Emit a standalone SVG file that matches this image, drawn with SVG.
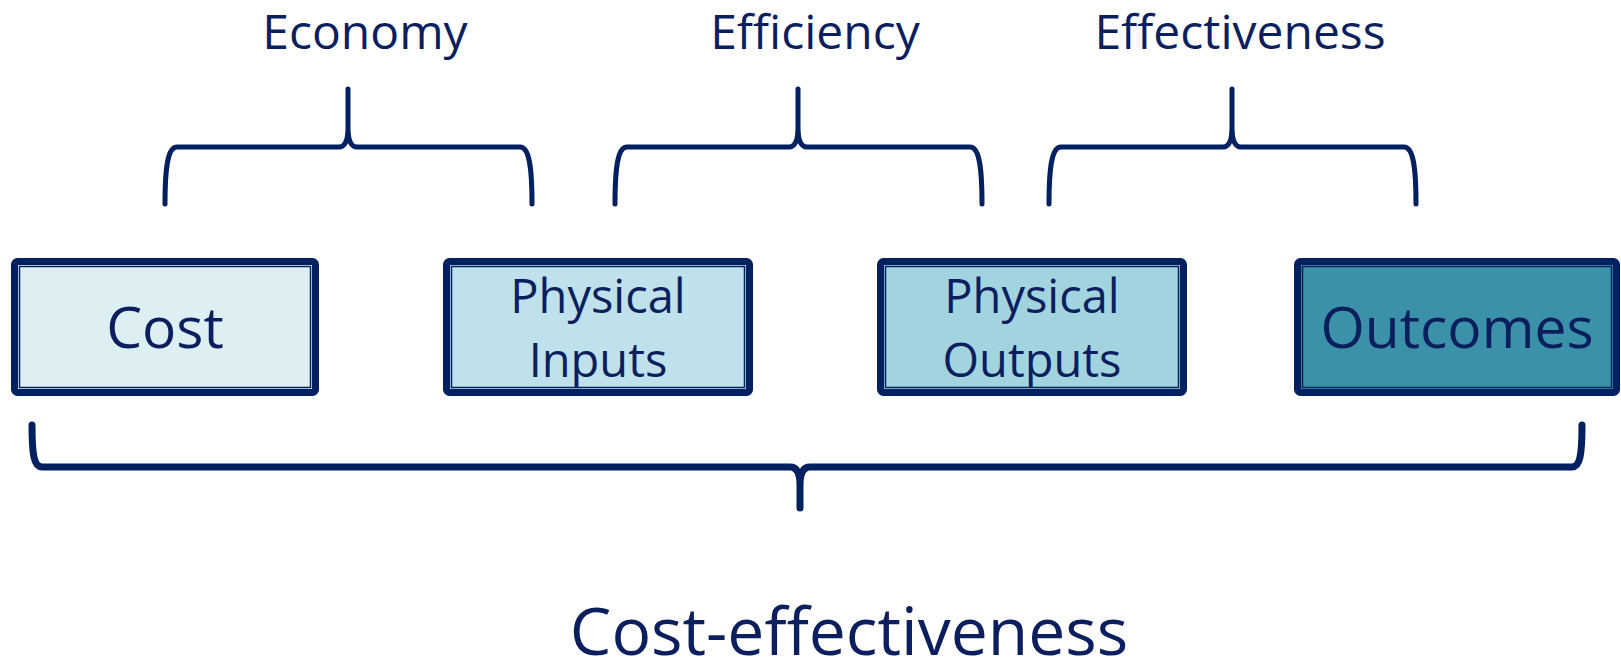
<svg xmlns="http://www.w3.org/2000/svg" width="1621" height="662" viewBox="0 0 1621 662">
<style>
.outer{stroke:#002060;stroke-width:7;}
.inner{fill:none;stroke:#002060;stroke-width:1.5;}
.brace{fill:none;stroke:#002060;stroke-width:5;stroke-linecap:round;stroke-linejoin:round;}
.bbrace{fill:none;stroke:#002060;stroke-width:7;stroke-linecap:round;stroke-linejoin:round;}
text{font-family:"Open Sans","Noto Sans",sans-serif;fill:#0B1F5E;text-anchor:middle;}
.lab{font-size:48px;}
.big{font-size:57px;}
.mid{font-size:47px;}
.bottom{font-size:66px;}
</style>
<defs>
<path id="br" d="M0,57 C0,19 3,0 12,0 L174,0 C180,0 183,-7 183,-20 L183,-58 M183,-20 C183,-7 186,0 192,0 L355,0 C364,0 367,19 367,57"/>
</defs>
<rect width="1621" height="662" fill="#FFFFFF"/>
<g id="labels">
<text class="lab" x="365" y="49">Economy</text>
<text class="lab" x="815" y="49">Efficiency</text>
<text class="lab" x="1240" y="49">Effectiveness</text>
<text class="bottom" x="849" y="655">Cost-effectiveness</text>
</g>
<g id="connectors">
<use href="#br" class="brace" transform="translate(165,147)"/>
<use href="#br" class="brace" transform="translate(615,147)"/>
<use href="#br" class="brace" transform="translate(1049,147)"/>
<path class="bbrace" d="M32,425 C32,455 34,467 42,467 L790,467 C796,467 800,472 800,485 L800,508 M800,485 C800,472 804,467 810,467 L1572,467 C1580,467 1582,455 1582,425"/>
</g>
<g id="cost">
<rect class="outer" x="14.5" y="261.5" width="301" height="131" rx="3" fill="#DEEFF4"/>
<rect class="inner" x="19.5" y="266.5" width="291" height="121"/>
<text class="big" x="165" y="348">Cost</text>
</g>
<g id="inputs">
<rect class="outer" x="446.5" y="261.5" width="303" height="131" rx="3" fill="#BFE1EB"/>
<rect class="inner" x="451.5" y="266.5" width="293" height="121"/>
<text class="mid" x="598" y="313">Physical</text>
<text class="mid" x="598" y="377">Inputs</text>
</g>
<g id="outputs">
<rect class="outer" x="880.5" y="261.5" width="303" height="131" rx="3" fill="#A2D4E0"/>
<rect class="inner" x="885.5" y="266.5" width="293" height="121"/>
<text class="mid" x="1032" y="313">Physical</text>
<text class="mid" x="1032" y="377">Outputs</text>
</g>
<g id="outcomes">
<rect class="outer" x="1297.5" y="261.5" width="319" height="131" rx="3" fill="#3A91A8"/>
<rect class="inner" x="1302.5" y="266.5" width="309" height="121"/>
<text class="big" x="1457" y="348">Outcomes</text>
</g>
</svg>
